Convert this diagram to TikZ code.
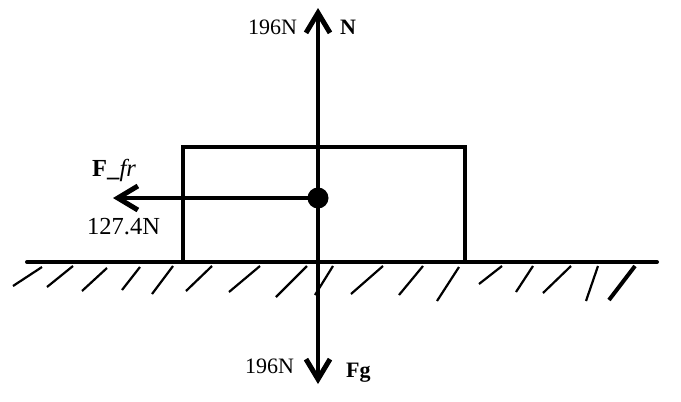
\documentclass[tikz,border=0pt]{standalone}
\usepackage{fontspec}
\setmainfont{Liberation Serif}
\usetikzlibrary{arrows.meta}
\tikzset{
	force/.style={-{Straight Barb[length=20pt,width=24pt,line width=5pt]}, line width=4pt},
	lbl/.style={font=\fontsize{22}{26}\selectfont, anchor=base west, inner sep=0pt},
	big/.style={font=\fontsize{24.5}{28}\selectfont},
	hatch/.style={line width=2.2pt}
}
\begin{document}
\begin{tikzpicture}[x=1pt,y=-1pt]
		\useasboundingbox (0,0) rectangle (681,402);
		% ground
		\draw[line width=4pt, line cap=round] (27,262) -- (657,262);
		\foreach \a/\b/\c/\d in {42/267/13/286, 73/266/47/287, 107/268/82/291, 140/267/122/290,
			173/266/152/294, 212/266/186/291, 260/266/229/292, 307/266/276/297, 333/266/315/295,
			383/266/351/294, 423/266/399/295, 459/267/437/301, 502/266/479/284, 533/266/516/292,
			571/266/543/293, 598/266/586/301}
			\draw[hatch] (\a,\b) -- (\c,\d);
		\draw[line width=4pt] (635,266) -- (609,300);
		% block
		\draw[line width=3.5pt] (183,147) rectangle (465,262);
		\node[circle, fill=black, minimum size=21pt, inner sep=0pt] (m) at (318,198) {};
		\coordinate (ntip) at (318,8);
		\coordinate (gtip) at (318,384);
		\coordinate (ftip) at (113,198);
		\draw[force] (m.center) -- (ntip);
		\draw[force] (m.center) -- (gtip);
		\draw[force, line width=3.5pt] (m.center) -- (ftip);
		% labels
		\node[lbl] (nval) at (248,34) {196N};
		\node[lbl] (nname) at (340,34) {\textbf{N}};
		\node[lbl] (gval) at (245,373) {196N};
		\node[lbl] (gname) at (346,377) {\textbf{Fg}};
		\node[lbl, big] (fname) at (92,176) {\textbf{F\_}\textit{fr}};
		\node[lbl, big] (fval) at (87,234) {127.4N};
	\end{tikzpicture}
\end{document}
